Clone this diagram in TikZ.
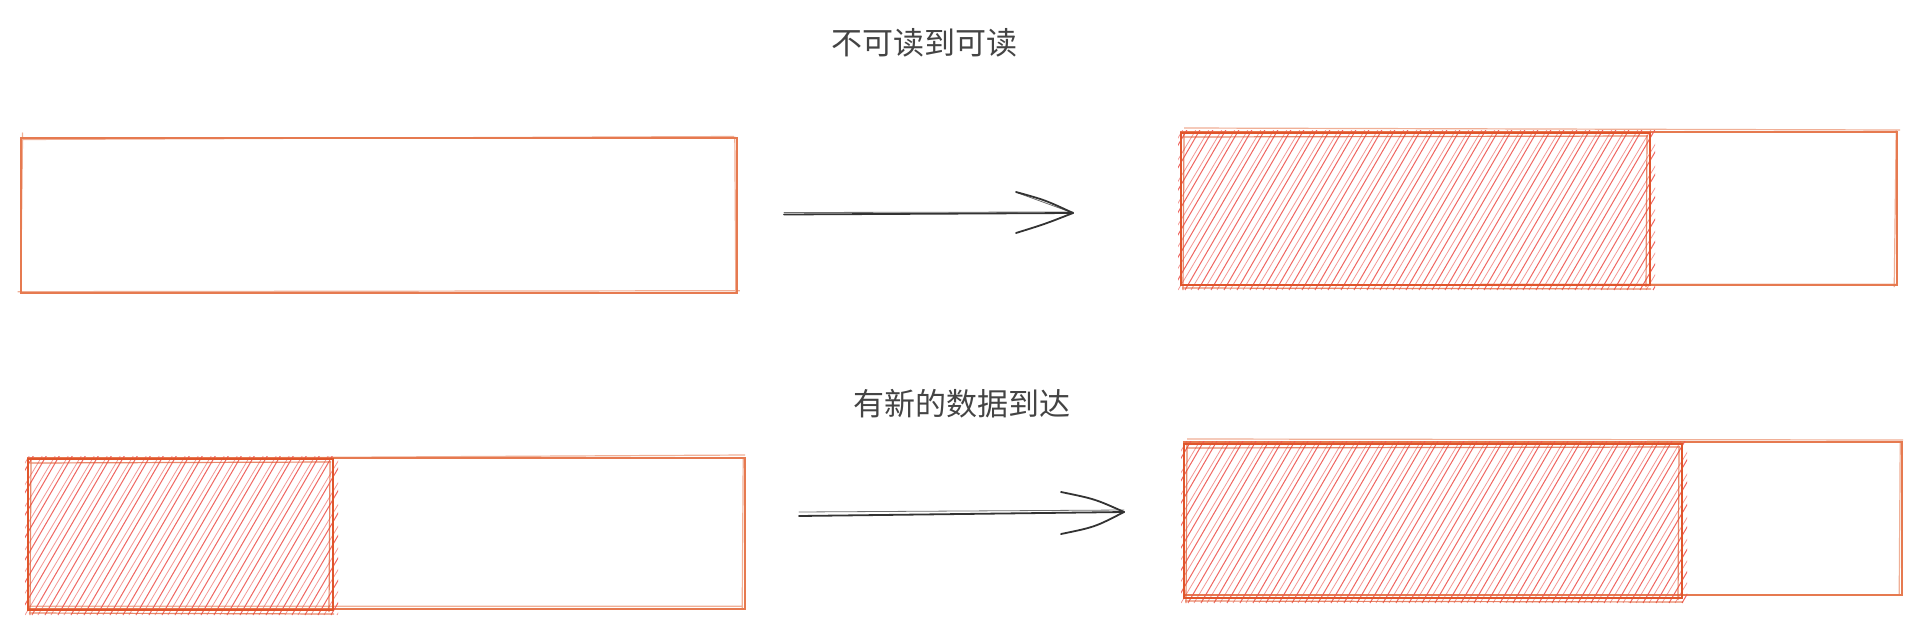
\documentclass[tikz,border=0pt]{standalone}
\usepackage{fontspec}
\newfontfamily\cjk{Noto Sans CJK SC}
\definecolor{boxorange}{HTML}{E67A50}
\definecolor{hatchedge}{HTML}{E0552B}
\definecolor{hatchline}{HTML}{EE5650}
\definecolor{txt}{HTML}{444444}
\definecolor{arr}{HTML}{333333}
\tikzset{
  outerbox/.style={draw=boxorange, line width=2.2pt, inner sep=0pt, anchor=north west},
  sketchline/.style={draw=boxorange, line width=1.2pt, opacity=0.6},
  hatchbox/.style={draw=hatchedge, line width=2.4pt},
  hatchsketch/.style={draw=hatchedge, line width=1.2pt, opacity=0.7},
  hatchstroke/.style={draw=hatchline, line width=1pt, opacity=0.9},
  hatchstrokeb/.style={draw=hatchline, line width=0.8pt, opacity=0.6},
  titletext/.style={font=\cjk\fontsize{31}{36}\selectfont, text=txt},
  arrowline/.style={draw=arr, line width=1.8pt, line cap=round},
  arrowthin/.style={draw=arr, line width=0.8pt, opacity=0.7, line cap=round},
}
\newcommand{\hatchrect}[4]{% x1 y1 x2 y2 (pixel coords)
  \begin{scope}
    \clip (#1-3,#2-3) rectangle (#3+5,#4+6);
    \pgfmathsetmacro{\hh}{#4-#2+10}
    \pgfmathsetmacro{\dx}{\hh*0.58}
    \foreach \xx in {-100,-87,...,#3} {
      \draw[hatchstroke] (#1+\xx,#4+5) -- ++(\dx,-\hh);
    }
    \foreach \xx in {-94,-81,...,#3} {
      \draw[hatchstrokeb] (#1+\xx,#4+5) -- ++(\dx+3,-\hh);
    }
  \end{scope}
  \draw[hatchbox] (#1,#2) rectangle (#3,#4);
  \draw[hatchsketch] (#1+2,#2+4) -- (#3-2,#2+3) (#1+1,#4+3) -- (#3+1,#4+4)
                     (#1+3,#2-1) -- (#1+2,#4+5) (#3-3,#2+2) -- (#3-4,#4+2);
}
\begin{document}
\begin{tikzpicture}[x=1pt,y=-1pt]
\useasboundingbox[fill=white] (0,0) rectangle (1921,632);

% titles
\node[titletext] (t1) at (924,43) {不可读到可读};
\node[titletext] (t2) at (962,404) {有新的数据到达};

% row 1 left: empty box
\node[outerbox, minimum width=716pt, minimum height=155pt] (b1) at (19.6,136.5) {};
\draw[sketchline] ([shift={(2,3)}]b1.north west) -- ([shift={(-4,0)}]b1.north east)
                  ([shift={(-2,-2)}]b1.south west) -- ([shift={(2,-3)}]b1.south east)
                  ([shift={(3,-4)}]b1.north west) -- ([shift={(1,0)}]b1.south west)
                  ([shift={(-3,0)}]b1.north east) -- ([shift={(-2,-1)}]b1.south east);

% row 1 right
\node[outerbox, minimum width=716pt, minimum height=153pt] (b2) at (1180,131) {};
\draw[sketchline] ([shift={(4,-3)}]b2.north west) -- ([shift={(2,-1)}]b2.north east)
                  ([shift={(-2,-1)}]b2.north east) -- ([shift={(-4,1)}]b2.south east)
                  ([shift={(300,-2)}]b2.south west) -- ([shift={(-2,-2)}]b2.south east);
\hatchrect{1181}{133}{1650}{285}

% row 2 left
\node[outerbox, minimum width=717pt, minimum height=151pt] (b3) at (27,457) {};
\draw[sketchline] ([shift={(4,2)}]b3.north west) -- ([shift={(-1,-2)}]b3.north east)
                  ([shift={(0,-4)}]b3.south west) -- ([shift={(-3,-4)}]b3.south east)
                  ([shift={(-3,2)}]b3.north east) -- ([shift={(-4,-2)}]b3.south east);
\hatchrect{28}{459}{333}{610}

% row 2 right
\node[outerbox, minimum width=718pt, minimum height=153pt] (b4) at (1183,441) {};
\draw[sketchline] ([shift={(4,-2)}]b4.north west) -- ([shift={(0,-1)}]b4.north east)
                  ([shift={(-3,2)}]b4.north east) -- ([shift={(-4,-2)}]b4.south east);
\hatchrect{1184}{444}{1682}{598}

% arrow 1
\coordinate (a1s) at (784,214.5);
\coordinate (a1e) at (1073,213);
\coordinate (a1u) at (1016,192);
\coordinate (a1d) at (1016,233);
\draw[arrowline] (a1s) -- (a1e);
\draw[arrowthin] ([yshift=2]a1s) -- ([yshift=1]a1e);
\draw[arrowline] (a1e) .. controls (1045,200) .. (a1u);
\draw[arrowthin] (a1e) .. controls (1045,203) .. ([shift={(2,1)}]a1u);
\draw[arrowline] (a1e) .. controls (1045,224) .. (a1d);

% arrow 2
\coordinate (a2s) at (799,516);
\coordinate (a2e) at (1124,512);
\coordinate (a2u) at (1061,492);
\coordinate (a2d) at (1061,534);
\draw[arrowline] (a2s) -- (a2e);
\draw[arrowthin] ([yshift=4]a2s) -- ([yshift=2]a2e);
\draw[arrowline] (a2e) .. controls (1095,499) .. (a2u);
\draw[arrowline] (a2e) .. controls (1095,527) .. (a2d);
\end{tikzpicture}
\end{document}
